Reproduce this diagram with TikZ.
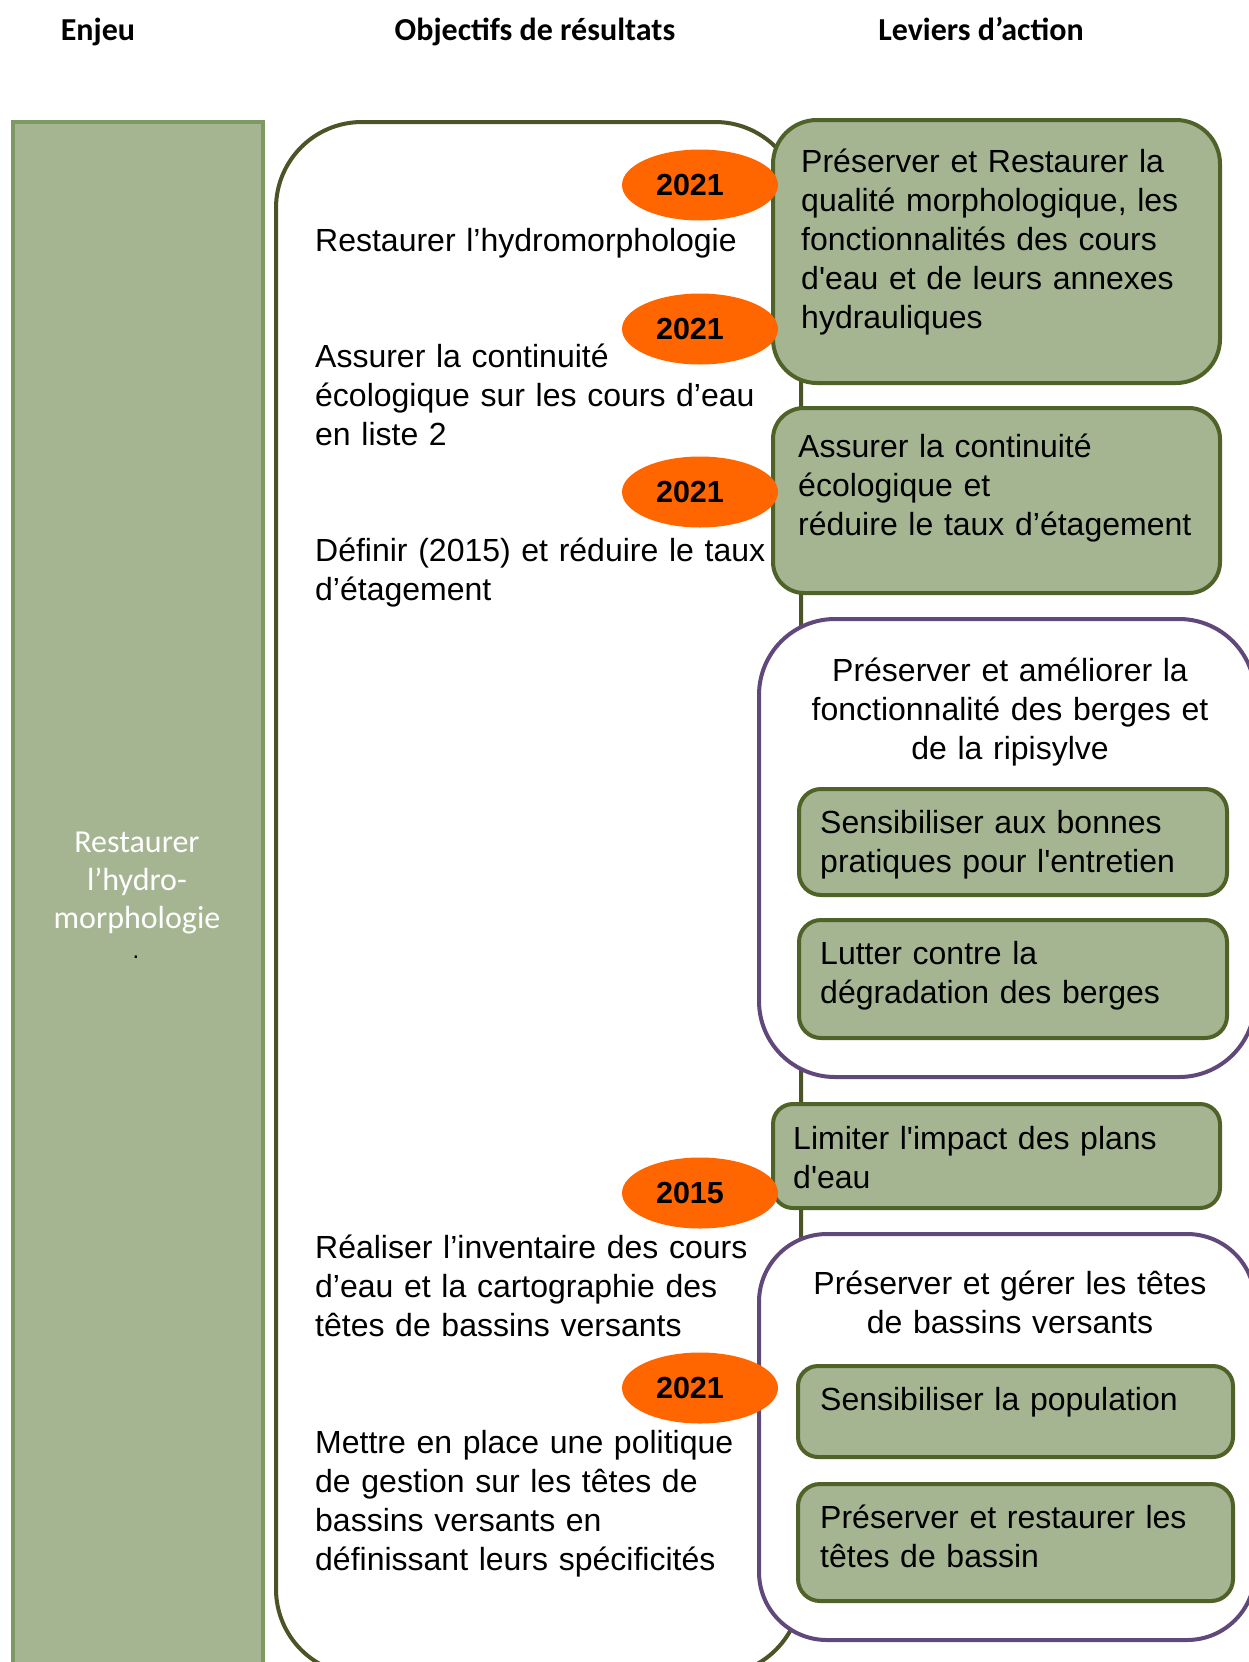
\documentclass[tikz,border=0pt]{standalone}
\usepackage{fontspec}
\setmainfont{Liberation Sans}
\newfontfamily\calfont{Carlito}
\usetikzlibrary{shapes.geometric}
\definecolor{sage}{RGB}{165,181,146}
\definecolor{sageedge}{RGB}{127,153,100}
\definecolor{olive}{RGB}{79,98,40}
\definecolor{darkolive}{RGB}{74,84,38}
\definecolor{plum}{RGB}{96,73,122}
\definecolor{orng}{RGB}{255,102,0}
\tikzset{
  lever/.style={draw=olive, line width=4pt, fill=sage, rounded corners=#1, anchor=north west, inner sep=0pt, outer sep=0pt},
  groupbox/.style={draw=plum, line width=4pt, fill=white, rounded corners=#1, anchor=north west, inner sep=0pt, outer sep=0pt},
  year/.style={ellipse, fill=orng, minimum width=156pt, minimum height=71pt, inner sep=0pt, font=\bfseries\fontsize{30.5}{36}\selectfont},
  body/.style={anchor=base west, inner sep=0pt, text width=#1, align=left, font=\fontsize{32}{39}\selectfont},
  ctext/.style={anchor=base, inner sep=0pt, text width=#1, align=center, font=\fontsize{32}{39}\selectfont},
  head/.style={anchor=base, inner sep=0pt, font=\calfont\bfseries\fontsize{32}{39}\selectfont},
}
\begin{document}
\begin{tikzpicture}[x=1pt,y=-1pt]
\useasboundingbox (0,0) rectangle (1249,1662);
\clip (0,0) rectangle (1249,1662);
\fill[white] (0,0) rectangle (1249,1662);

% headers
\node[head] (h1) at (98,41) {Enjeu};
\node[head] (h2) at (535,41) {Objectifs de résultats};
\node[head] (h3) at (981,41) {Leviers d’action};

% enjeu column
\node[draw=sageedge, fill=sage, line width=3.5pt, anchor=north west, minimum width=250pt, minimum height=1600pt, inner sep=0pt] (enj) at (11,120) {};
\node[anchor=base, inner sep=0pt, text width=240pt, align=center, text=white, font=\calfont\fontsize{32}{38}\selectfont] (enjt) at (137,852) {Restaurer\\l’hydro-\\morphologie};
\node[anchor=base, inner sep=0pt, font=\fontsize{24}{26}\selectfont] (enjdot) at (136,958) {.};

% objectifs frame
\node[draw=darkolive, line width=4pt, fill=white, rounded corners=86pt, anchor=north west, minimum width=525pt, minimum height=1553pt, inner sep=0pt] (obj) at (274,120) {};

% leviers boxes
\node[lever=44pt, minimum width=447pt, minimum height=263pt] (l1) at (773,120) {};
\node[lever=31pt, minimum width=447pt, minimum height=185pt] (l2) at (773,408) {};
\node[groupbox=76pt, minimum width=496pt, minimum height=458pt] (g1) at (759,619) {};
\node[lever=22pt, minimum width=428pt, minimum height=106pt] (g1a) at (799,789) {};
\node[lever=22pt, minimum width=428pt, minimum height=118pt] (g1b) at (799,920) {};
\node[lever=20pt, minimum width=447pt, minimum height=104pt] (l3) at (773,1104) {};
\node[groupbox=68pt, minimum width=496pt, minimum height=406pt] (g2) at (759,1234) {};
\node[lever=20pt, minimum width=435pt, minimum height=91pt] (g2a) at (798,1366) {};
\node[lever=22pt, minimum width=435pt, minimum height=117pt] (g2b) at (798,1484) {};

% years
\node[year] (y1) at (700,185) {2021\kern20pt};
\node[year] (y2) at (700,329) {2021\kern20pt};
\node[year] (y3) at (700,492) {2021\kern20pt};
\node[year] (y4) at (700,1193) {2015\kern20pt};
\node[year] (y5) at (700,1388) {2021\kern20pt};

% objectifs texts
\node[body=480pt] (o1) at (315,251) {Restaurer l’hydromorphologie};
\node[body=480pt] (o2) at (315,367) {Assurer la continuité\\écologique sur les cours d’eau\\en liste 2};
\node[body=480pt] (o3) at (315,561) {Définir (2015) et réduire le taux\\d’étagement};
\node[body=480pt] (o4) at (315,1258) {Réaliser l’inventaire des cours\\d’eau et la cartographie des\\têtes de bassins versants};
\node[body=480pt] (o5) at (315,1453) {Mettre en place une politique\\de gestion sur les têtes de\\bassins versants en\\définissant leurs spécificités};

% leviers texts
\node[body=430pt] (l1t) at (801,172) {Préserver et Restaurer la\\qualité morphologique, les\\fonctionnalités des cours\\d\textquotesingle eau et de leurs annexes\\hydrauliques};
\node[body=430pt] (l2t) at (798,457) {Assurer la continuité\\écologique et\\réduire le taux d’étagement};
\node[ctext=480pt] (g1t) at (1010,681) {Préserver et améliorer la\\fonctionnalité des berges et\\de la ripisylve};
\node[body=420pt] (g1at) at (820,833) {Sensibiliser aux bonnes\\pratiques pour l\textquotesingle entretien};
\node[body=420pt] (g1bt) at (820,964) {Lutter contre la\\dégradation des berges};
\node[body=430pt] (l3t) at (793,1149) {Limiter l\textquotesingle impact des plans\\d\textquotesingle eau};
\node[ctext=480pt] (g2t) at (1010,1294) {Préserver et gérer les têtes\\de bassins versants};
\node[body=420pt] (g2at) at (820,1410) {Sensibiliser la population};
\node[body=420pt] (g2bt) at (820,1528) {Préserver et restaurer les\\têtes de bassin};
\end{tikzpicture}
\end{document}
